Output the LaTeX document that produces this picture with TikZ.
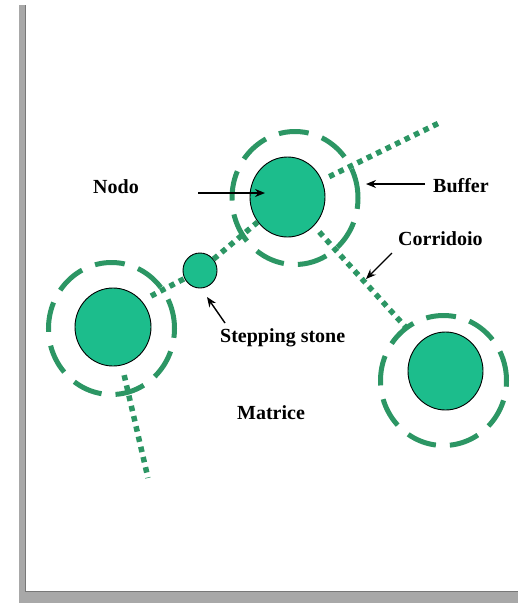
\documentclass[tikz,border=0pt]{standalone}
\usepackage{fontspec}
\setmainfont{Liberation Serif}
\usetikzlibrary{arrows.meta,shapes.geometric}
\definecolor{nodefill}{RGB}{28,189,140}
\definecolor{bufcol}{RGB}{44,150,100}
\definecolor{framegray}{RGB}{168,168,168}
\definecolor{frameedge}{RGB}{120,120,120}
\begin{document}
\begin{tikzpicture}[x=1pt,y=-1pt,
  habitat/.style={ellipse,fill=nodefill,draw=black,line width=0.9pt,inner sep=0},
  bufferring/.style={ellipse,draw=bufcol,line width=5pt,dash pattern=on 30pt off 14pt,inner sep=0},
  corr/.style={draw=bufcol,line width=5.5pt,dash pattern=on 5.5pt off 5pt},
  lbl/.style={font=\bfseries\fontsize{20}{24}\selectfont,inner sep=0,anchor=base west},
  pointer/.style={-{Stealth[length=10pt,width=8pt]},line width=1.4pt}]
\useasboundingbox (0,0) rectangle (518,603);
% frame
\fill[framegray] (19,5) rectangle (26,603);
\fill[framegray] (19,591) rectangle (518,603);
\draw[frameedge,line width=1pt] (25.5,5) -- (25.5,591.5) -- (518,591.5);
% buffers
\node[bufferring,minimum width=126pt,minimum height=133pt] (topbuf) at (295,198) {};
\node[bufferring,minimum width=126pt,minimum height=132pt] (leftbuf) at (111.5,328.5) {};
\node[bufferring,minimum width=126pt,minimum height=130pt] (rightbuf) at (443.5,380.5) {};
% nodes (patches)
\node[habitat,minimum width=75pt,minimum height=80pt] (top) at (287.5,197) {};
\node[habitat,minimum width=76pt,minimum height=78pt] (left) at (113,327) {};
\node[habitat,minimum width=75pt,minimum height=78pt] (right) at (445.5,371) {};
\node[habitat,minimum width=34pt,minimum height=35pt] (ss) at (200,270.5) {};
% corridor free ends
\coordinate (c1s) at (151,296);
\coordinate (c2e) at (441,122);
\coordinate (c4e) at (148,478);
% corridors
\draw[corr] (c1s) -- (ss);
\draw[corr] (ss) -- (top);
\draw[corr,shorten <=8pt] (top) -- (c2e);
\draw[corr,shorten <=8pt,shorten >=14pt] (top) -- (right);
\draw[corr,shorten <=10pt] (left) -- (c4e);
% labels
\node[lbl] (nodo) at (93,193) {Nodo};
\node[lbl] (buffer) at (433,192) {Buffer};
\node[lbl] (corridoio) at (398,245) {Corridoio};
\node[lbl] (stepping) at (220,342) {Stepping stone};
\node[lbl] (matrice) at (237,419) {Matrice};
% pointer ends
\coordinate (a1s) at (198,193);
\coordinate (a1e) at (265,193);
\coordinate (a2s) at (425,184);
\coordinate (a2e) at (366,184);
\coordinate (a3s) at (392,253);
\coordinate (a3e) at (366,279);
\coordinate (a4s) at (225,323);
\coordinate (a4e) at (207,297);
\draw[pointer] (a1s) -- (a1e);
\draw[pointer] (a2s) -- (a2e);
\draw[pointer] (a3s) -- (a3e);
\draw[pointer] (a4s) -- (a4e);
\end{tikzpicture}
\end{document}
